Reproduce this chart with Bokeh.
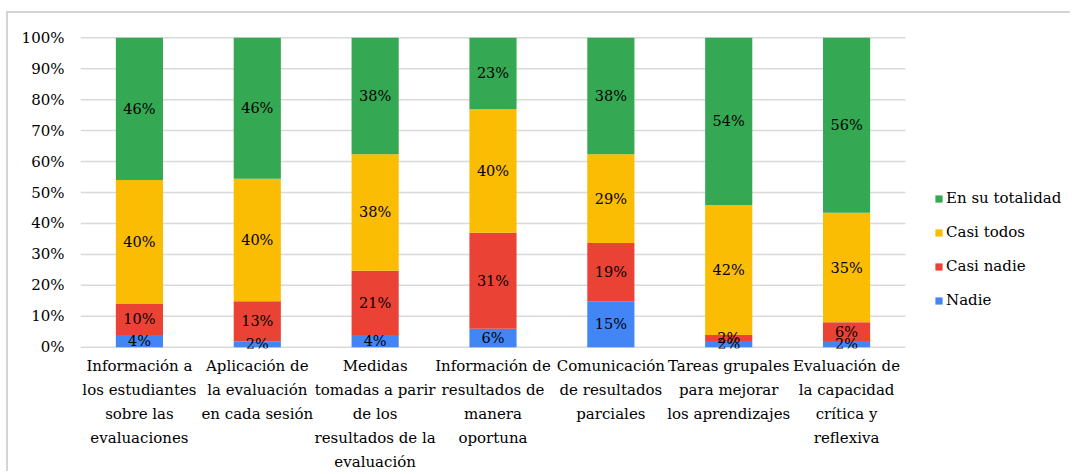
from bokeh.plotting import figure
from bokeh.models import (ColumnDataSource, Legend, LegendItem, LinearAxis,
                          NumeralTickFormatter, FixedTicker, Range1d)
from bokeh.core.properties import value
from bokeh.embed import file_html
from bokeh.resources import INLINE

categories = [
    "Información a\nlos estudiantes\nsobre las\nevaluaciones",
    "Aplicación de\nla evaluación\nen cada sesión",
    "Medidas\ntomadas a parir\nde los\nresultados de la\nevaluación",
    "Información de\nresultados de\nmanera\noportuna",
    "Comunicación\nde resultados\nparciales",
    "Tareas grupales\npara mejorar\nlos aprendizajes",
    "Evaluación de\nla capacidad\ncrítica y\nreflexiva",
]
series_names = ["Nadie", "Casi nadie", "Casi todos", "En su totalidad"]
nadie = [4, 2, 4, 6, 15, 2, 2]
casi_nadie = [10, 13, 21, 31, 19, 2, 6]
casi_todos = [40, 40, 38, 40, 29, 42, 35]
en_su_totalidad = [46, 46, 38, 23, 38, 54, 56]
colors = ["#4285f4", "#ea4335", "#fbbc04", "#34a853"]
y_ticks = [0, 0.1, 0.2, 0.3, 0.4, 0.5, 0.6, 0.7, 0.8, 0.9, 1.0]

FONT = "DejaVu Serif"
series = [nadie, casi_nadie, casi_todos, en_su_totalidad]
n = len(categories)
xs = list(range(n))
totals = [sum(s[i] for s in series) for i in range(n)]
keys = ["s0", "s1", "s2", "s3"]
data = {"x": xs}
for k, s in zip(keys, series):
    data[k] = [v / t for v, t in zip(s, totals)]
source = ColumnDataSource(data)

W, H = 1064, 460
left, right, top, bottom = 72, 1, 23, 124
px_per_cat = 825 / 7.0
x_end = -0.5 + (W - left - right) / px_per_cat

p = figure(x_range=Range1d(-0.5, x_end), y_range=Range1d(-0.004, 1.004),
           width=W, height=H, output_backend="svg", toolbar_location=None,
           x_axis_location=None,
           min_border_left=left, min_border_right=right, min_border_top=top,
           min_border_bottom=bottom)
p.styles = {"border-left": "2px solid #d4d4d4", "border-top": "2px solid #d4d4d4",
            "margin-left": "6px", "margin-top": "11px"}
p.outline_line_color = None
p.xgrid.grid_line_color = None
p.ygrid.grid_line_color = None

p.segment(x0=[-0.5] * len(y_ticks), x1=[n - 0.5] * len(y_ticks), y0=y_ticks, y1=y_ticks,
          line_color="#d9d9d9", line_width=1.5)

renderers = p.vbar_stack(keys, x="x", width=0.4, color=colors, source=source,
                         line_color=None)

lx, ly, lt = [], [], []
for i in range(n):
    base = 0.0
    for k, s in zip(keys, series):
        h = data[k][i]
        lx.append(xs[i])
        ly.append(base + h / 2)
        lt.append(f"{s[i]}%")
        base += h
p.text(x=lx, y=ly, text=lt, text_align="center", text_baseline="middle",
       text_font=value(FONT), text_font_size="14.5px", text_color="#000000")

p.yaxis.ticker = FixedTicker(ticks=y_ticks)
p.yaxis.formatter = NumeralTickFormatter(format="0%")
p.yaxis.axis_line_color = None
p.yaxis.major_tick_line_color = None
p.yaxis.minor_tick_line_color = None
p.yaxis.major_label_standoff = 10
p.yaxis.major_label_text_font = FONT
p.yaxis.major_label_text_font_size = "15px"
p.yaxis.major_label_text_color = "#000000"

lines = [c.split("\n") for c in categories]
max_lines = max(len(l) for l in lines)
for j in range(max_lines):
    ax = LinearAxis(ticker=FixedTicker(ticks=xs),
                    major_label_overrides={xs[i]: (lines[i][j] if j < len(lines[i]) else "")
                                           for i in range(n)})
    ax.axis_line_color = None
    ax.major_tick_line_color = None
    ax.minor_tick_line_color = None
    ax.major_tick_in = 0
    ax.major_tick_out = 0
    ax.major_label_standoff = 8 if j == 0 else 3
    ax.major_label_text_font = FONT
    ax.major_label_text_font_size = "15px"
    ax.major_label_text_color = "#000000"
    p.add_layout(ax, "below")

items = [LegendItem(label=nm, renderers=[r]) for nm, r in zip(series_names, renderers)]
items.reverse()
legend = Legend(items=items, location=(854, 38), padding=0, margin=0,
                border_line_color=None, background_fill_alpha=0,
                glyph_width=9, glyph_height=9, label_standoff=3,
                label_height=20, spacing=14,
                label_text_font=FONT, label_text_font_size="15px",
                label_text_color="#000000")
p.add_layout(legend, "center")

open("out.html", "w").write(file_html(p, INLINE))
